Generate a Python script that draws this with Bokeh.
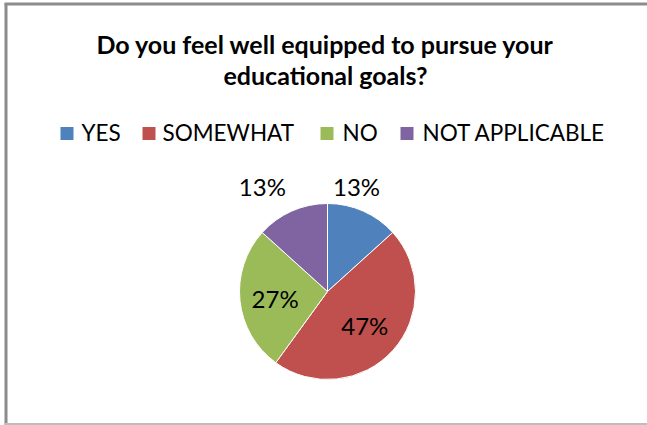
from bokeh.plotting import figure
from bokeh.models import Range1d
from bokeh.embed import file_html
from bokeh.resources import INLINE
from bokeh.core.properties import value
import math

# ---- data ----
categories = ["YES", "SOMEWHAT", "NO", "NOT APPLICABLE"]
shares = [13.3, 46.7, 26.7, 13.3]
colors = ["#4F81BD", "#C0504D", "#9BBB59", "#8064A2"]
title_lines = ["Do you feel well equipped to pursue your", "educational goals?"]

# ---- layout (page pixel coordinates) ----
W, H = 647, 425
CX, CY, R = 327, 291, 88
FONT = "Lato"

p = figure(width=W, height=H, x_range=Range1d(0, W), y_range=Range1d(-H, 0),
           output_backend="svg", toolbar_location=None, min_border=0)
p.axis.visible = False
p.grid.visible = False
p.outline_line_color = None
p.background_fill_color = "white"
p.border_fill_color = "white"

# frame
p.segment(x0=[5.5, 4], y0=[-H, -3.5], x1=[5.5, W], y1=[-3, -3.5],
          line_color="#8c8c8c", line_width=3)
p.segment(x0=[4], y0=[-423.5], x1=[W], y1=[-423.5], line_color="#bdbdbd", line_width=2)

# title
for i, t in enumerate(title_lines):
    p.text(x=[325], y=[-(43 + i * 31)], text=[t], text_font=value(FONT), text_font_style="bold",
           text_font_size="25px", text_align="center", text_baseline="middle", text_color="#000000")

# legend
sq_x = [60, 142, 320, 400]
tx_x = [81, 162, 342, 422]
LY = 133
for cat, col, sx, tx in zip(categories, colors, sq_x, tx_x):
    p.rect(x=[sx + 6.5], y=[-LY], width=13, height=13, fill_color=col, line_color=None)
    p.text(x=[tx], y=[-(LY - 1)], text=[cat], text_font=value(FONT), text_font_size="22.5px",
           text_align="left", text_baseline="middle", text_color="#000000")

# pie
total = sum(shares)
start = 90.0
starts, ends, mids = [], [], []
for s in shares:
    sweep = s / total * 360.0
    starts.append(math.radians(start))
    ends.append(math.radians(start - sweep))
    mids.append(start - sweep / 2)
    start -= sweep
p.wedge(x=CX, y=-CY, radius=R, start_angle=starts, end_angle=ends, direction="clock",
        fill_color=colors, line_color="white", line_width=1)

# data labels: (radius factor, angle shift in degrees)
label_place = [(1.24, 8.5), (0.57, 0), (0.6, 1.5), (1.40, 8)]
for s, m, (rf, da) in zip(shares, mids, label_place):
    a = math.radians(m + da)
    lx = CX + rf * R * math.cos(a)
    ly = CY - rf * R * math.sin(a)
    p.text(x=[lx], y=[-ly], text=[f"{round(s / total * 100)}%"], text_font=value(FONT),
           text_font_size="24px", text_align="center", text_baseline="middle", text_color="#000000")

open("out.html", "w").write(file_html(p, INLINE))
